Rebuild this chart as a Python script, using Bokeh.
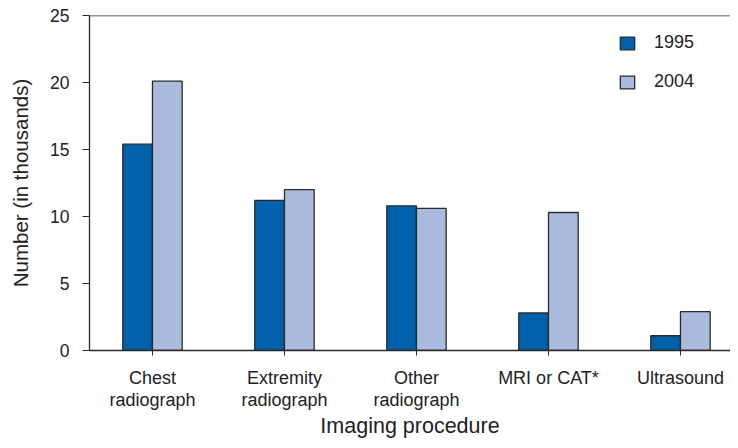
from bokeh.plotting import figure
from bokeh.models import ColumnDataSource, FixedTicker, Span, Legend, LegendItem
from bokeh.embed import file_html
from bokeh.resources import INLINE

categories = ["Chest\nradiograph", "Extremity\nradiograph", "Other\nradiograph", "MRI or CAT*", "Ultrasound"]
values_1995 = [15.4, 11.2, 10.8, 2.8, 1.1]
values_2004 = [20.1, 12.0, 10.6, 10.3, 2.9]
years = ["1995", "2004"]
y_ticks = [0, 5, 10, 15, 20, 25]

FONT = "Liberation Sans"
C1995 = "#0060A9"
C2004 = "#AABADD"
EDGE = "#2a2a2a"

idx = list(range(len(categories)))
bw = 0.225
src = ColumnDataSource(dict(
    x1=[i - bw / 2 for i in idx], x2=[i + bw / 2 for i in idx],
    v1=values_1995, v2=values_2004))

p = figure(width=730, height=440, output_backend="svg", toolbar_location=None,
           x_range=(-0.477, 4.379), y_range=(0, 25),
           min_border_left=89, min_border_right=0, min_border_top=15, min_border_bottom=20)
p.outline_line_color = None
p.grid.grid_line_color = None
p.background_fill_color = "white"

r1 = p.vbar(x="x1", top="v1", width=bw, source=src, fill_color=C1995, line_color=EDGE, line_width=1.3)
r2 = p.vbar(x="x2", top="v2", width=bw, source=src, fill_color=C2004, line_color=EDGE, line_width=1.3)

p.add_layout(Span(location=25, dimension="width", line_color=EDGE, line_width=1.3))

xa = p.xaxis[0]
xa.ticker = FixedTicker(ticks=idx)
xa.major_label_overrides = {i: c for i, c in zip(idx, categories)}
xa.minor_tick_line_color = None
xa.major_tick_in = 0
xa.major_tick_out = 5
xa.major_label_standoff = 12
xa.axis_line_color = EDGE
xa.major_tick_line_color = EDGE
xa.axis_line_width = 1.3
xa.major_label_text_font = FONT
xa.major_label_text_font_size = "18px"
xa.major_label_text_line_height = 1.1
xa.major_label_text_color = "#222222"
xa.axis_label = "Imaging procedure"
xa.axis_label_text_font = FONT
xa.axis_label_text_font_style = "normal"
xa.axis_label_text_font_size = "21.5px"
xa.axis_label_text_color = "#222222"
xa.axis_label_standoff = 1

ya = p.yaxis[0]
ya.ticker = FixedTicker(ticks=y_ticks)
ya.minor_tick_line_color = None
ya.major_tick_in = 0
ya.major_tick_out = 7
ya.major_label_standoff = 13
ya.axis_line_color = EDGE
ya.major_tick_line_color = EDGE
ya.axis_line_width = 1.3
ya.major_label_text_font = FONT
ya.major_label_text_font_size = "17.5px"
ya.major_label_text_color = "#222222"
ya.axis_label = "Number (in thousands)"
ya.axis_label_text_font = FONT
ya.axis_label_text_font_style = "normal"
ya.axis_label_text_font_size = "20.5px"
ya.axis_label_text_color = "#222222"
ya.axis_label_standoff = 15

legend = Legend(items=[LegendItem(label=years[0], renderers=[r1]),
                       LegendItem(label=years[1], renderers=[r2])],
                location=(529, 258), border_line_color=None, background_fill_alpha=0,
                glyph_width=18, glyph_height=16, label_height=16, spacing=18,
                label_standoff=18, padding=10,
                label_text_font=FONT, label_text_font_size="18px", label_text_color="#222222")
p.add_layout(legend)

open("out.html", "w").write(file_html(p, INLINE))
